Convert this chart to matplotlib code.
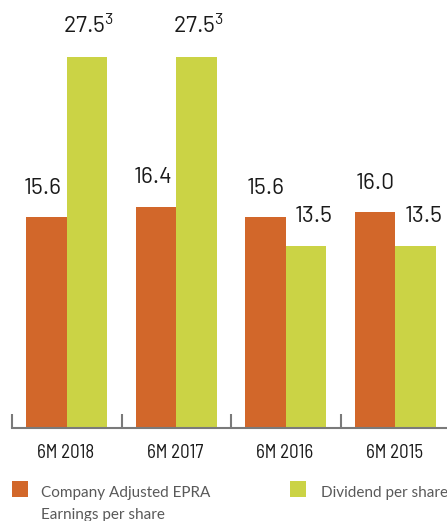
import matplotlib
matplotlib.use("Agg")
import matplotlib.pyplot as plt
from matplotlib.patches import Rectangle
import numpy as np

categories = ["6M 2018", "6M 2017", "6M 2016", "6M 2015"]
eps_values = [15.6, 16.4, 15.6, 16.0]
dps_values = [27.5, 27.5, 13.5, 13.5]
dps_notes = ["3", "3", "", ""]
series_names = ["Company Adjusted EPRA\nEarnings per share", "Dividend per share"]

ORANGE = "#D2672A"
GREEN = "#CBD345"
W, H = 447, 521
DPI = 100

plt.rcParams["mathtext.default"] = "regular"
fig = plt.figure(figsize=(W / DPI, H / DPI), dpi=DPI)
ax = fig.add_axes([12 / W, (H - 428) / H, 1 - 12 / W, 428 / H])

x = np.arange(len(categories))
bw = 0.37
ax.bar(x - bw / 2, eps_values, width=bw, color=ORANGE, linewidth=0)
ax.bar(x + bw / 2, dps_values, width=bw, color=GREEN, linewidth=0)

ax.set_xlim(-0.5, -0.5 + (W - 12) / 109.5)
ax.set_ylim(0, 428 / 13.5)

for s in ["top", "right", "left"]:
    ax.spines[s].set_visible(False)
ax.spines["bottom"].set_color("#7a7a7a")
ax.spines["bottom"].set_linewidth(1.5)
ax.set_yticks([])
ax.set_xticks(x - 0.5)
ax.tick_params(axis="x", direction="in", length=10, width=1.5, color="#7a7a7a", labelbottom=False)

for i, cat in enumerate(categories):
    ax.annotate(cat, xy=(x[i], 0), xycoords=("data", "axes fraction"),
                xytext=(-1, -29.7), textcoords="offset pixels",
                ha="center", va="baseline", fontfamily="Barlow Semi Condensed",
                fontsize=13.6, color="#1a1a1a", annotation_clip=False)

num_font = dict(fontfamily="Barlow", fontsize=16.5, color="#1a1a1a")
eps_dx = [-4, -3, 0, 0]
dps_dx = [0, 0, 8, 8]
for i in range(len(categories)):
    ax.annotate(f"{eps_values[i]:.1f}", xy=(x[i] - bw / 2, eps_values[i]),
                xytext=(eps_dx[i], 23.4), textcoords="offset pixels",
                ha="center", va="baseline", **num_font)
    lab = f"{dps_values[i]:.1f}"
    if dps_notes[i]:
        lab += "$^{" + dps_notes[i] + "}$"
    ax.annotate(lab, xy=(x[i] + bw / 2, dps_values[i]),
                xytext=(dps_dx[i] + (1.5 if dps_notes[i] else 0), 23.4), textcoords="offset pixels",
                ha="center", va="baseline", **num_font)

# legend
leg_colors = [ORANGE, GREEN]
sq_x = [11.7, 290]
txt_x = [41, 321]
for c, sx, tx, name in zip(leg_colors, sq_x, txt_x, series_names):
    fig.add_artist(Rectangle((sx / W, (H - 497) / H), 16 / W, 16 / H,
                             transform=fig.transFigure, color=c, linewidth=0))
    for j, line in enumerate(name.split("\n")):
        fig.text(tx / W, (H - 496.7 - 22.3 * j) / H, line, ha="left", va="baseline",
                 fontfamily="Lato", fontsize=11, color="#595959")

fig.savefig("out.png", dpi=DPI)
